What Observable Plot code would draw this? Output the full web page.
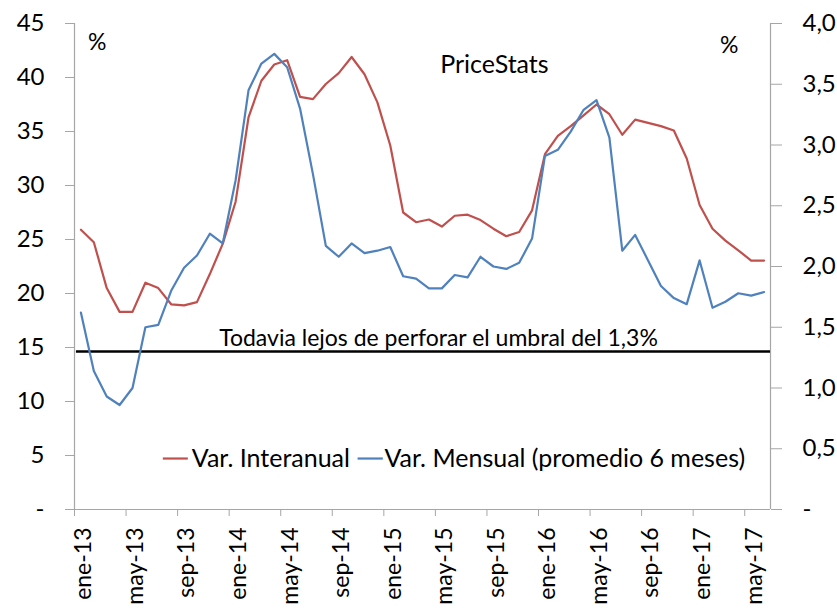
<!DOCTYPE html>
<html><head><meta charset="utf-8">
<script src="https://cdn.jsdelivr.net/npm/d3@7"></script>
<script src="https://cdn.jsdelivr.net/npm/@observablehq/plot@0.6"></script>
<style>body{margin:0;background:#fff} #chart{width:837px;height:613px}</style>
</head><body><div id="chart"></div>
<script>
const months = ["ene-13","feb-13","mar-13","abr-13","may-13","jun-13","jul-13","ago-13","sep-13","oct-13","nov-13","dic-13",
"ene-14","feb-14","mar-14","abr-14","may-14","jun-14","jul-14","ago-14","sep-14","oct-14","nov-14","dic-14",
"ene-15","feb-15","mar-15","abr-15","may-15","jun-15","jul-15","ago-15","sep-15","oct-15","nov-15","dic-15",
"ene-16","feb-16","mar-16","abr-16","may-16","jun-16","jul-16","ago-16","sep-16","oct-16","nov-16","dic-16",
"ene-17","feb-17","mar-17","abr-17","may-17","jun-17"];
const interanual = [25.9,24.75,20.5,18.3,18.3,21.0,20.5,19.0,18.9,19.2,21.8,24.6,28.5,36.3,39.7,41.2,41.6,38.2,38.0,39.4,40.4,41.9,40.3,37.7,33.7,27.5,26.6,26.85,26.2,27.2,27.3,26.8,26.0,25.3,25.7,27.7,32.9,34.6,35.5,36.5,37.5,36.6,34.7,36.1,35.8,35.5,35.1,32.5,28.2,26.0,24.9,24.0,23.05,23.05];
const mensual = [1.62,1.14,0.93,0.86,1.00,1.50,1.52,1.80,1.99,2.09,2.27,2.19,2.71,3.45,3.67,3.75,3.64,3.30,2.76,2.17,2.08,2.19,2.11,2.13,2.16,1.92,1.90,1.82,1.82,1.93,1.91,2.08,2.00,1.98,2.03,2.23,2.91,2.96,3.11,3.29,3.37,3.06,2.13,2.26,2.05,1.84,1.74,1.69,2.05,1.66,1.71,1.78,1.76,1.79];
const leftTicks = [0,5,10,15,20,25,30,35,40,45];
const rightTicks = [0,0.5,1.0,1.5,2.0,2.5,3.0,3.5,4.0];
const umbral = 1.3;
const seriesNames = ["Var. Interanual","Var. Mensual (promedio 6 meses)"];
const title = "PriceStats";
const annotation = "Todavia lejos de perforar el umbral del 1,3%";

const K = 45 / 4; // right-axis unit -> left-axis unit
const RED = "#c0504d", BLUE = "#4f81bd", GRAY = "#a6a6a6";
const data = months.map((m, i) => ({i, m, ia: interanual[i], me: mensual[i] * K}));
const tickIdx = months.map((m, i) => i).filter(i => i % 4 === 0);
const FS = 23;

const plot = Plot.plot({
  width: 837, height: 613,
  marginLeft: 74, marginRight: 67, marginTop: 23, marginBottom: 104,
  style: {fontFamily: "Lato, sans-serif", fontSize: FS + "px", color: "#000", background: "#fff", overflow: "visible"},
  x: {domain: [0, months.length], axis: null},
  y: {domain: [0, 45], axis: null},
  marks: [
    Plot.ruleX([0, months.length], {stroke: GRAY, strokeWidth: 1.2}),
    Plot.ruleY([0], {stroke: GRAY, strokeWidth: 1.2}),
    Plot.axisY({anchor: "left", ticks: leftTicks, tickSize: 9, tickPadding: 21, stroke: GRAY, color: "#000", fontSize: 24, label: null,
      tickFormat: d => d === 0 ? "-" : String(d)}),
    Plot.axisY({anchor: "right", ticks: rightTicks.map(v => v * K), tickSize: 11, tickPadding: 21, stroke: GRAY, color: "#000", fontSize: 24, label: null,
      tickFormat: d => { const v = Math.round(d / K * 10) / 10; return v === 0 ? "-" : v.toFixed(1).replace(".", ","); }}),
    Plot.axisX({ticks: tickIdx, tickSize: 7, stroke: GRAY, tickFormat: () => "", label: null}),
    Plot.text(tickIdx, {x: i => i + 0.5, y: 0, text: i => months[i], rotate: -90, textAnchor: "end", lineAnchor: "middle", dy: 18, dx: 3, fontSize: 23, fill: "#000"}),
    Plot.ruleY([umbral * K], {x1: 0.15, x2: months.length, stroke: "#000", strokeWidth: 2.6}),
    Plot.line(data, {x: d => d.i + 0.5, y: "ia", stroke: RED, strokeWidth: 2.2}),
    Plot.line(data, {x: d => d.i + 0.5, y: "me", stroke: BLUE, strokeWidth: 2.2}),
    Plot.text([annotation], {x: 28.24, y: 15.1, text: d => d, lineAnchor: "bottom", textAnchor: "middle", fontSize: 23, fill: "#000"}),
    Plot.text([title], {x: 32.58, y: 40.4, text: d => d, lineAnchor: "bottom", textAnchor: "middle", fontSize: 25, fill: "#000"}),
    Plot.text(["%"], {x: 1.76, y: 43.27, text: d => d, lineAnchor: "middle", textAnchor: "middle", fontSize: 23, fill: "#000"}),
    Plot.text(["%"], {x: 50.79, y: 42.96, text: d => d, lineAnchor: "middle", textAnchor: "middle", fontSize: 23, fill: "#000"}),
    Plot.ruleY([4.72], {x1: 6.89, x2: 8.83, stroke: RED, strokeWidth: 2.2}),
    Plot.text([seriesNames[0]], {x: 9.1, y: 4.72, text: d => d, lineAnchor: "middle", textAnchor: "start", fontSize: 25, fill: "#000"}),
    Plot.ruleY([4.72], {x1: 22.0, x2: 23.96, stroke: BLUE, strokeWidth: 2.2}),
    Plot.text([seriesNames[1]], {x: 24.05, y: 4.72, text: d => d, lineAnchor: "middle", textAnchor: "start", fontSize: 25, fill: "#000"})
  ]
});
document.getElementById("chart").appendChild(plot);
</script>
</body></html>
